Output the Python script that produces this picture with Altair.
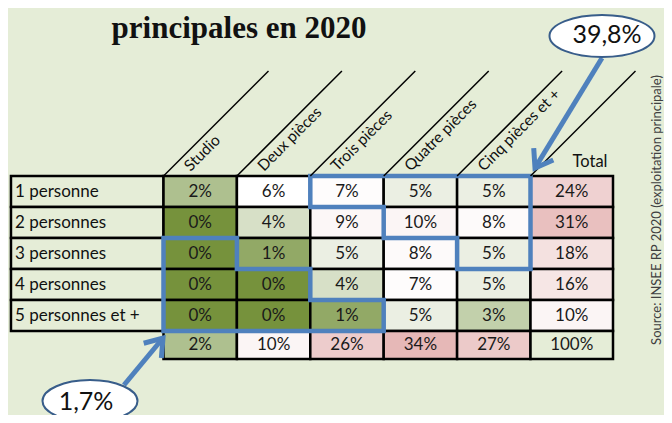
import math
import altair as alt
import pandas as pd

# ---------------- data ----------------
rows = ["1 personne", "2 personnes", "3 personnes", "4 personnes", "5 personnes et +"]
cols = ["Studio", "Deux pièces", "Trois pièces", "Quatre pièces", "Cinq pièces et +"]
row_1 = [2, 6, 7, 5, 5]
row_2 = [0, 4, 9, 10, 8]
row_3 = [0, 1, 5, 8, 5]
row_4 = [0, 0, 4, 7, 5]
row_5 = [0, 0, 1, 5, 3]
row_totals = [24, 31, 18, 16, 10]
col_totals = [2, 10, 26, 34, 27]
grand_total = 100
total_label = "Total"
title_text = "principales en 2020"
source_text = "Source: INSEE RP 2020 (exploitation principale)"
callout_top = "39,8%"
callout_bottom = "1,7%"
# staircase zones framed in blue, as grid corners (column, row)
zone_top = [(2, 0), (5, 0), (5, 3), (4, 3), (4, 2), (3, 2), (3, 1), (2, 1), (2, 0)]
zone_bottom = [(0, 2), (1, 2), (1, 3), (2, 3), (2, 4), (3, 4), (3, 5), (0, 5), (0, 2)]

values = [row_1, row_2, row_3, row_4, row_5]

# ---------------- layout / style ----------------
W, H = 656, 407
PX_X, PX_Y = 73.4, 31.0      # pixels per grid unit
X0, Y0 = 155.5, 168.0        # pixel of grid origin inside the plot
LABEL_LEFT = -2.078
TOTAL_RIGHT = 6.124
TOTAL_ROW_H = 0.9
BG = "#E5EDD7"
BLUE = "#4F81BD"
FONT = "Lato"


def gx(px):  # page pixel -> grid unit (x)
    return (px - 8 - X0) / PX_X


def gy(px):  # page pixel -> grid unit (y)
    return (px - 8 - Y0) / PX_Y


xs = alt.Scale(domain=[-X0 / PX_X, (W - X0) / PX_X], nice=False, zero=False)
ys = alt.Scale(domain=[-Y0 / PX_Y, (H - Y0) / PX_Y], nice=False, zero=False, reverse=True)


def X(f="x"):
    return alt.X(f, type="quantitative", scale=xs, axis=None)


def Y(f="y"):
    return alt.Y(f, type="quantitative", scale=ys, axis=None)


color_scale = alt.Scale(domain=[0, 2, 6, 34],
                        range=["#76923C", "#AEC08F", "#FFFFFF", "#E6B8B7"],
                        interpolate="rgb")

# cells
recs = []
for r, vals in enumerate(values):
    for c, v in enumerate(vals + [row_totals[r]]):
        x2 = c + 1 if c < 5 else TOTAL_RIGHT
        recs.append(dict(x=c, x2=x2, y=r, y2=r + 1, v=v, t=f"{v}%"))
for c, v in enumerate(col_totals + [grand_total]):
    x2 = c + 1 if c < 5 else TOTAL_RIGHT
    recs.append(dict(x=c, x2=x2, y=5, y2=5 + TOTAL_ROW_H, v=v, t=f"{v}%"))
cell_df = pd.DataFrame(recs)
cell_df["xc"] = (cell_df.x + cell_df.x2) / 2
cell_df["yc"] = (cell_df.y + cell_df.y2) / 2

lab_df = pd.DataFrame(dict(x=[LABEL_LEFT] * 5, x2=[0] * 5, y=list(range(5)),
                           y2=[r + 1 for r in range(5)], t=rows))
lab_df["xt"] = LABEL_LEFT + 4 / PX_X
lab_df["yc"] = lab_df.y + 0.5

cells = alt.Chart(cell_df).mark_rect(stroke="black", strokeWidth=2.5).encode(
    x=X(), x2="x2", y=Y(), y2="y2",
    fill=alt.condition(alt.datum.v >= 100, alt.value(BG),
                       alt.Fill("v:Q", scale=color_scale, legend=None)))
cell_text = alt.Chart(cell_df).mark_text(font=FONT, fontSize=17, color="#1a1a1a").encode(
    x=X("xc"), y=Y("yc"), text="t:N")

lab_cells = alt.Chart(lab_df).mark_rect(stroke="black", strokeWidth=2.5, fill=BG).encode(
    x=X(), x2="x2", y=Y(), y2="y2")
lab_text = alt.Chart(lab_df).mark_text(font=FONT, fontSize=17, color="#111111",
                                       align="left").encode(
    x=X("xt"), y=Y("yc"), text="t:N")

# diagonal header
diag_len = 105
hdr_lines = pd.DataFrame(dict(x=list(range(6)), y=[0] * 6))
hdr_lines["x2"] = hdr_lines.x + diag_len / PX_X
hdr_lines["y2"] = -diag_len / PX_Y
lines = alt.Chart(hdr_lines).mark_rule(color="black", strokeWidth=1.5).encode(
    x=X(), y=Y(), x2="x2", y2="y2")

hdr_df = pd.DataFrame(dict(x=[c + 27 / PX_X for c in range(5)], y=[-4 / PX_Y] * 5, t=cols))
hdr = alt.Chart(hdr_df).mark_text(font=FONT, fontSize=15.5, angle=315, align="left",
                                  baseline="alphabetic", color="#111111").encode(
    x=X(), y=Y(), text="t:N")

tot_df = pd.DataFrame(dict(x=[gx(590)], y=[gy(167)], t=[total_label]))
tot = alt.Chart(tot_df).mark_text(font=FONT, fontSize=16.5, baseline="alphabetic",
                                  color="#111111").encode(x=X(), y=Y(), text="t:N")

# blue staircases
zrec = []
for name, pts in [("top", zone_top), ("bottom", zone_bottom)]:
    for i, (c, r) in enumerate(pts):
        zrec.append(dict(z=name, i=i, x=c, y=r))
zones = alt.Chart(pd.DataFrame(zrec)).mark_line(color=BLUE, strokeWidth=4.5,
                                                 strokeJoin="miter", strokeCap="square").encode(
    x=X(), y=Y(), detail="z:N", order="i:Q")

# callouts (page pixel anchors converted to grid units)
callouts = [
    dict(name="top", cx=gx(602), cy=gy(36), w=105, ratio=0.4, text=callout_top,
         tx=gx(607), ty=gy(35), sx=gx(602), sy=gy(58), ex=gx(535), ey=gy(168)),
    dict(name="bottom", cx=gx(90), cy=gy(401), w=95, ratio=0.44, text=callout_bottom,
         tx=gx(86), ty=gy(402), sx=gx(124), sy=gy(385), ex=gx(163), ey=gy(338)),
]
arr_rec, head_rec = [], []
for k in callouts:
    arr_rec += [dict(a=k["name"], i=0, x=k["sx"], y=k["sy"]), dict(a=k["name"], i=1, x=k["ex"], y=k["ey"])]
    dx = (k["ex"] - k["sx"]) * PX_X
    dy = (k["ey"] - k["sy"]) * PX_Y
    L = math.hypot(dx, dy)
    ux, uy = dx / L, dy / L
    arm = 20
    pts = []
    for ang in (math.radians(35), -math.radians(35)):
        rx = ux * math.cos(ang) - uy * math.sin(ang)
        ry = ux * math.sin(ang) + uy * math.cos(ang)
        pts.append((k["ex"] - arm * rx / PX_X, k["ey"] - arm * ry / PX_Y))
    head_rec += [dict(a=k["name"], i=0, x=pts[0][0], y=pts[0][1]),
                 dict(a=k["name"], i=1, x=k["ex"], y=k["ey"]),
                 dict(a=k["name"], i=2, x=pts[1][0], y=pts[1][1])]

arrows = alt.Chart(pd.DataFrame(arr_rec)).mark_line(color=BLUE, strokeWidth=5).encode(
    x=X(), y=Y(), detail="a:N", order="i:Q")
heads = alt.Chart(pd.DataFrame(head_rec)).mark_line(color=BLUE, strokeWidth=5,
                                                    strokeJoin="miter").encode(
    x=X(), y=Y(), detail="a:N", order="i:Q")

ell_layers = []
for k in callouts:
    r = k["ratio"]
    path = f"M -1 0 A 1 {r} 0 1 1 1 0 A 1 {r} 0 1 1 -1 0 Z"
    d = pd.DataFrame(dict(x=[k["cx"]], y=[k["cy"]]))
    ell_layers.append(alt.Chart(d).mark_point(shape=path, size=k["w"] ** 2, fill="white",
                                              fillOpacity=1, stroke="#385D8A", strokeWidth=2,
                                              opacity=1).encode(x=X(), y=Y()))
    td = pd.DataFrame(dict(x=[k["tx"]], y=[k["ty"]], t=[k["text"]]))
    ell_layers.append(alt.Chart(td).mark_text(font=FONT, fontSize=25, color="#111111").encode(
        x=X(), y=Y(), text="t:N"))

src_df = pd.DataFrame(dict(x=[gx(657)], y=[gy(210)], t=[source_text]))
src = alt.Chart(src_df).mark_text(font=FONT, fontSize=13, angle=270, color="#404040").encode(
    x=X(), y=Y(), text="t:N")

ttl_df = pd.DataFrame(dict(x=[gx(239)], y=[gy(38)], t=[title_text]))
ttl = alt.Chart(ttl_df).mark_text(font="Liberation Serif", fontSize=31, fontWeight="bold",
                                  baseline="alphabetic", color="#111111").encode(
    x=X(), y=Y(), text="t:N")

chart = alt.layer(lab_cells, cells, cell_text, lab_text, zones, lines, hdr, tot,
                  arrows, heads, *ell_layers, src, ttl).properties(
    width=W, height=H, padding=0, autosize="none", background=BG
).configure_view(stroke=None)

chart.save("out.html", embed_options={"renderer": "svg", "actions": False})
